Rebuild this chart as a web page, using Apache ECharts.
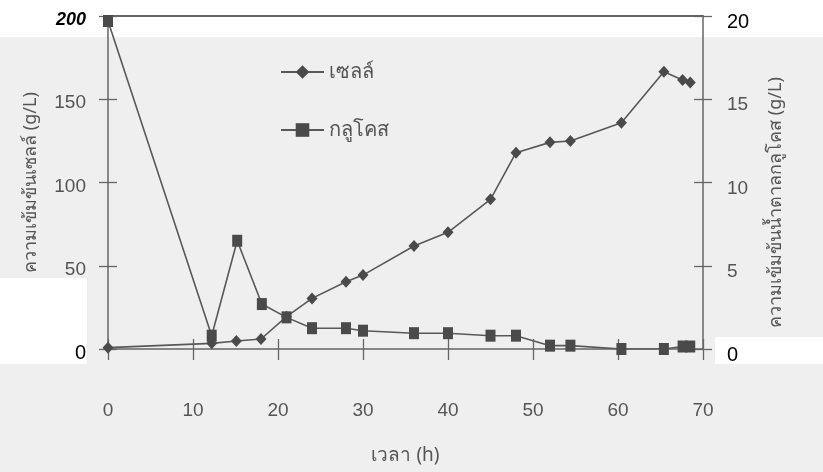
<!DOCTYPE html>
<html>
<head>
<meta charset="utf-8">
<script src="https://cdn.jsdelivr.net/npm/echarts@6/dist/echarts.min.js"></script>
<style>
html,body{margin:0;padding:0;background:#fff;}
#chart{width:823px;height:472px;}
</style>
</head>
<body>
<div id="chart"></div>
<script>
// ---- data ----
const cellTimes = [0, 12.2, 15.1, 18, 21, 24, 28, 30, 36, 40, 45, 48, 52, 54.4, 60.4, 65.4, 67.6, 68.5];
const cellValues = [0.8, 3.4, 4.8, 6, 19.4, 30.4, 40.4, 44.4, 61.9, 70.1, 89.9, 117.9, 124.1, 124.9, 135.9, 166.5, 161.6, 160];
const glucoseTimes = [0, 12.2, 15.2, 18.1, 21, 24, 28, 30, 36, 40, 45, 48, 52, 54.4, 60.4, 65.4, 67.6, 68.5];
const glucoseValues = [19.7, 0.8, 6.5, 2.7, 1.9, 1.25, 1.25, 1.1, 0.95, 0.95, 0.8, 0.8, 0.2, 0.2, 0.0, 0.0, 0.15, 0.15];
const seriesNames = ['เซลล์', 'กลูโคส'];
const xTitle = 'เวลา (h)';
const leftTitle = 'ความเข้มข้นเซลล์ (g/L)';
const rightTitle = 'ความเข้มข้นน้ำตาลกลูโคส (g/L)';

const cellData = cellTimes.map((t, i) => [t, cellValues[i]]);
const glucoseData = glucoseTimes.map((t, i) => [t, glucoseValues[i]]);

const AX = '#666';
const LINE = '#585858';
const MARK = '#4a4a4a';
const NUM_FONT = '"Liberation Sans", Arial, sans-serif';
const THAI_FONT = '"Noto Sans", "DejaVu Sans", sans-serif';

const chart = echarts.init(document.getElementById('chart'), null, {renderer: 'canvas'});

const tickStyle = {color: AX, width: 1.3};

chart.setOption({
  backgroundColor: '#fff',
  animation: false,
  graphic: [
    {type: 'rect', z: -100, silent: true, shape: {x: 0, y: 37, width: 823, height: 435}, style: {fill: '#efefef'}},
    {type: 'rect', z: -99, silent: true, shape: {x: 0, y: 278, width: 87, height: 86}, style: {fill: '#fff'}},
    {type: 'rect', z: -99, silent: true, shape: {x: 715, y: 337, width: 108, height: 27}, style: {fill: '#fff'}}
  ],
  grid: {left: 108, right: 120, top: 16, height: 333, containLabel: false},
  legend: {
    orient: 'vertical', left: 275, top: 55, itemGap: 34,
    itemWidth: 43, itemHeight: 17,
    textStyle: {fontFamily: THAI_FONT, fontSize: 20, color: '#555', lineHeight: 24},
    data: seriesNames
  },
  xAxis: [
    {
      type: 'value', min: 0, max: 70, interval: 10, position: 'bottom',
      axisLine: {show: true, onZero: false, lineStyle: {color: AX, width: 1.5}},
      axisTick: {show: true, inside: false, length: 11, lineStyle: tickStyle},
      axisLabel: {margin: 52, fontFamily: NUM_FONT, fontSize: 19, color: '#555'},
      splitLine: {show: false},
      name: xTitle, nameLocation: 'middle', nameGap: 97,
      nameTextStyle: {fontFamily: THAI_FONT, fontSize: 19, color: '#555'}
    },
    {
      type: 'value', min: 0, max: 70, interval: 10, position: 'bottom',
      axisLine: {show: false, onZero: false},
      axisTick: {show: true, inside: true, length: 10, lineStyle: tickStyle},
      axisLabel: {show: false}, splitLine: {show: false}
    },
    {
      type: 'value', min: 0, max: 70, interval: 10, position: 'top',
      axisLine: {show: true, onZero: false, lineStyle: {color: '#333', width: 1.5}},
      axisTick: {show: false}, axisLabel: {show: false}, splitLine: {show: false}
    }
  ],
  yAxis: [
    {
      type: 'value', min: 0, max: 200, interval: 50, position: 'left',
      axisLine: {show: true, onZero: false, lineStyle: {color: AX, width: 1.5}},
      axisTick: {show: true, inside: false, length: 9, lineStyle: tickStyle},
      splitLine: {show: false},
      axisLabel: {
        margin: 22, padding: [8, 0, 0, 0],
        formatter: v => v === 0 ? '{z|0}' : (v === 200 ? '{t|200}' : '{g|' + v + '}'),
        rich: {
          g: {fontFamily: NUM_FONT, fontSize: 19, color: '#555'},
          z: {fontFamily: NUM_FONT, fontSize: 20, color: '#000'},
          t: {fontFamily: NUM_FONT, fontSize: 18, color: '#000', fontStyle: 'italic', fontWeight: 'bold'}
        }
      },
      name: leftTitle, nameLocation: 'middle', nameGap: 68, nameRotate: 90,
      nameTextStyle: {fontFamily: THAI_FONT, fontSize: 18, color: '#555'}
    },
    {
      type: 'value', min: 0, max: 200, interval: 50, position: 'left',
      axisLine: {show: false, onZero: false},
      axisTick: {show: true, inside: true, length: 9, lineStyle: tickStyle},
      axisLabel: {show: false}, splitLine: {show: false}
    },
    {
      type: 'value', min: 0, max: 20, interval: 5, position: 'right',
      axisLine: {show: true, onZero: false, lineStyle: {color: AX, width: 1.5}},
      axisTick: {show: true, inside: false, length: 9, lineStyle: tickStyle},
      splitLine: {show: false},
      axisLabel: {
        margin: 24, padding: [12, 0, 0, 0],
        formatter: v => (v === 0 || v === 20) ? '{z|' + v + '}' : '{g|' + v + '}',
        rich: {
          g: {fontFamily: NUM_FONT, fontSize: 19, color: '#555'},
          z: {fontFamily: NUM_FONT, fontSize: 20, color: '#000'}
        }
      },
      name: rightTitle, nameLocation: 'middle', nameGap: 64, nameRotate: 90,
      nameTextStyle: {fontFamily: THAI_FONT, fontSize: 18, color: '#555', padding: [0, 40, 0, 0]}
    },
    {
      type: 'value', min: 0, max: 20, interval: 5, position: 'right',
      axisLine: {show: false, onZero: false},
      axisTick: {show: true, inside: true, length: 9, lineStyle: tickStyle},
      axisLabel: {show: false}, splitLine: {show: false}
    }
  ],
  series: [
    {
      name: seriesNames[0], type: 'line', xAxisIndex: 0, yAxisIndex: 0,
      data: cellData, symbol: 'diamond', symbolSize: [11, 12],
      lineStyle: {color: LINE, width: 1.6}, itemStyle: {color: MARK}, z: 3
    },
    {
      name: seriesNames[1], type: 'line', xAxisIndex: 0, yAxisIndex: 2,
      data: glucoseData, symbol: 'rect', symbolSize: [10, 12],
      lineStyle: {color: LINE, width: 1.6}, itemStyle: {color: MARK}, z: 4
    }
  ]
});
</script>
</body>
</html>
